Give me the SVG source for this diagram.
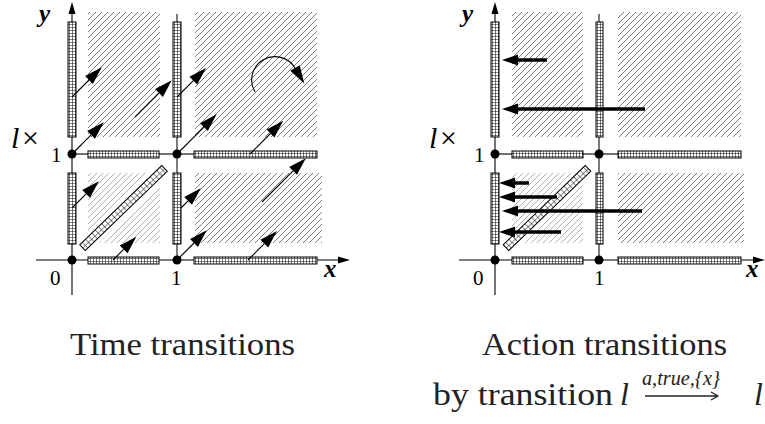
<svg xmlns="http://www.w3.org/2000/svg" width="765" height="424" viewBox="0 0 765 424">
<style>
.ax{stroke:#000;stroke-width:1.1;fill:none}
.gl{stroke:#444;stroke-width:1.4;fill:none}
.hatch{fill:url(#hatch)}
.strip{fill:url(#grid);stroke:#000;stroke-width:1}
.dstrip{fill:url(#grid4);stroke:#000;stroke-width:1}
.dot{fill:#000}
.tarr{stroke:#000;stroke-width:1.1;fill:none;marker-end:url(#ah)}
.aarr{stroke:#000;stroke-width:3.5;fill:none;marker-end:url(#ahk)}
.lbl{font-family:"Liberation Serif","Times New Roman","DejaVu Serif",serif;fill:#000}
.bi{font-family:"Liberation Serif","Times New Roman","DejaVu Serif",serif;font-weight:bold;font-style:italic;font-size:25px;fill:#000}
.cap{font-family:"Liberation Serif","Times New Roman","DejaVu Serif",serif;font-size:32px;fill:#222}
.it{font-style:italic}
.sup{font-family:"Liberation Serif","Times New Roman","DejaVu Serif",serif;font-size:20px;font-style:italic;fill:#222}
</style>
<defs>
<pattern id="hatch" patternUnits="userSpaceOnUse" width="6" height="6">
<path d="M-1,7 L7,-1 M-1,1 L1,-1 M5,7 L7,5" stroke="#666" stroke-width="0.85"/>
</pattern>
<pattern id="grid" patternUnits="userSpaceOnUse" width="3" height="3">
<rect width="3" height="3" fill="#fff"/>
<path d="M0,0 H3 M0,0 V3" stroke="#111" stroke-width="1.1"/>
</pattern>
<pattern id="grid4" patternUnits="userSpaceOnUse" width="4.5" height="4.5">
<rect width="4.5" height="4.5" fill="#fff"/>
<path d="M0,0 H4.5 M0,0 V4.5" stroke="#111" stroke-width="1"/>
</pattern>
<marker id="ah" markerUnits="userSpaceOnUse" markerWidth="19" markerHeight="12" refX="0" refY="6" orient="auto" overflow="visible">
<path d="M0,0.5 L18,6 L0,11.5 z" fill="#000"/>
</marker>
<marker id="ahk" markerUnits="userSpaceOnUse" markerWidth="17" markerHeight="12" refX="0" refY="6" orient="auto" overflow="visible">
<path d="M0,0.5 L16,6 L0,11.5 z" fill="#000"/>
</marker>
<marker id="axh" markerUnits="userSpaceOnUse" markerWidth="12" markerHeight="8" refX="0" refY="3.5" orient="auto" overflow="visible">
<path d="M0,0 L12,3.5 L0,7 z" fill="#000"/>
</marker>
<clipPath id="clipL"><polygon points="88,173 149,173 88,233"/><polygon points="160,183 160,243 99,243"/></clipPath>
<clipPath id="clipR"><polygon points="512,173 572,173 512,233"/><polygon points="583,183 583,243 523,243"/></clipPath>
</defs>

<!-- LEFT PANEL -->
<g id="left-panel">
  <g id="left-regions">
    <rect class="hatch" x="88" y="12" width="72" height="125"/>
    <rect class="hatch" x="195" y="12" width="122" height="125"/>
    <rect class="hatch" x="195" y="173" width="127" height="70"/>
    <rect class="hatch" x="88" y="173" width="72" height="70" clip-path="url(#clipL)" opacity="0.6"/>
  </g>
  <g id="left-axes">
    <path class="ax" d="M72,295 V14" marker-end="url(#axh)"/>
    <path class="ax" d="M36,260 H338" marker-end="url(#axh)"/>
    <path class="gl" d="M177,14 V260"/>
    <path class="gl" d="M72,154 H317"/>
  </g>
  <g id="left-strips">
    <rect class="strip" x="68" y="22" width="8" height="115"/>
    <rect class="strip" x="68" y="173" width="8" height="71"/>
    <rect class="strip" x="173" y="22" width="8" height="115"/>
    <rect class="strip" x="173" y="173" width="8" height="71"/>
    <rect class="strip" x="88" y="151" width="71" height="7"/>
    <rect class="strip" x="194" y="151" width="123" height="7"/>
    <rect class="strip" x="88" y="257" width="71" height="7"/>
    <rect class="strip" x="194" y="257" width="123" height="7"/>
    <rect class="dstrip" x="-57" y="-4" width="114" height="8" transform="translate(123.5,208) rotate(-44)"/>
  </g>
  <g id="left-dots">
    <circle class="dot" cx="72" cy="154" r="4.5"/>
    <circle class="dot" cx="72" cy="260" r="4.5"/>
    <circle class="dot" cx="177" cy="154" r="4.5"/>
    <circle class="dot" cx="177" cy="260" r="4.5"/>
  </g>
  <g id="left-labels">
    <text class="bi" x="39" y="22">y</text>
    <text class="bi" x="324" y="277">x</text>
    <text class="lbl" y="148" font-size="30"><tspan x="11" font-style="italic">l</tspan><tspan x="22">×</tspan></text>
    <text class="lbl" x="51" y="162" font-size="21">1</text>
    <text class="lbl" x="50" y="285" font-size="21">0</text>
    <text class="lbl" x="171" y="285" font-size="21">1</text>
  </g>
</g>

<!-- RIGHT PANEL -->
<g id="right-panel">
  <g id="right-regions">
    <rect class="hatch" x="512" y="12" width="71" height="125"/>
    <rect class="hatch" x="618" y="12" width="123" height="125"/>
    <rect class="hatch" x="618" y="173" width="126" height="70"/>
    <rect class="hatch" x="512" y="173" width="71" height="70" clip-path="url(#clipR)" opacity="0.6"/>
  </g>
  <g id="right-axes">
    <path class="ax" d="M495,295 V14" marker-end="url(#axh)"/>
    <path class="ax" d="M459,260 H753" marker-end="url(#axh)"/>
    <path class="gl" d="M599,14 V260"/>
    <path class="gl" d="M495,154 H741"/>
  </g>
  <g id="right-strips">
    <rect class="strip" x="491" y="22" width="8" height="115"/>
    <rect class="strip" x="491" y="173" width="8" height="71"/>
    <rect class="strip" x="596" y="22" width="7" height="115"/>
    <rect class="strip" x="596" y="173" width="7" height="71"/>
    <rect class="strip" x="512" y="151" width="71" height="7"/>
    <rect class="strip" x="618" y="151" width="123" height="7"/>
    <rect class="strip" x="512" y="257" width="71" height="7"/>
    <rect class="strip" x="618" y="257" width="123" height="7"/>
    <rect class="dstrip" x="-57" y="-4" width="114" height="8" transform="translate(547,208) rotate(-44)"/>
  </g>
  <g id="right-dots">
    <circle class="dot" cx="495" cy="154" r="4.5"/>
    <circle class="dot" cx="495" cy="260" r="4.5"/>
    <circle class="dot" cx="599" cy="154" r="4.5"/>
    <circle class="dot" cx="599" cy="260" r="4.5"/>
  </g>
  <g id="right-labels">
    <text class="bi" x="462" y="22">y</text>
    <text class="bi" x="746" y="277">x</text>
    <text class="lbl" y="148" font-size="30"><tspan x="429" font-style="italic">l</tspan><tspan x="440">×</tspan></text>
    <text class="lbl" x="474" y="162" font-size="21">1</text>
    <text class="lbl" x="473" y="285" font-size="21">0</text>
    <text class="lbl" x="594" y="285" font-size="21">1</text>
  </g>
</g>

<!-- CONNECTORS -->
<g id="connectors">
  <path class="tarr" d="M72,97 L89,80"/>
  <path class="tarr" d="M72,154 L91.1,134.9"/>
  <path class="tarr" d="M135,117 L159,93"/>
  <path class="tarr" d="M177,97 L193.3,80.7"/>
  <path class="tarr" d="M177,154 L203.9,127.1"/>
  <path class="tarr" d="M250,154 L270.5,133.5"/>
  <path class="tarr" d="M255,92 A23,23 0 1 1 295,68"/>
  <path class="tarr" d="M262,202 L293.1,170.9"/>
  <path class="tarr" d="M72,208 L86.1,193.9"/>
  <path class="tarr" d="M113,260 L123.6,249.4"/>
  <path class="tarr" d="M181,208 L188.1,200.9"/>
  <path class="tarr" d="M177,260 L194,243"/>
  <path class="tarr" d="M248,260 L264.3,243.7"/>

  <path class="aarr" d="M547,60 H518"/>
  <path class="aarr" d="M645,109 H518"/>
  <path class="aarr" d="M529,183 H515"/>
  <path class="aarr" d="M557,197 H515"/>
  <path class="aarr" d="M642,211 H518"/>
  <path class="aarr" d="M561,232 H515"/>
</g>

<!-- CAPTIONS -->
<g id="captions">
  <text class="cap" x="70" y="355" textLength="225" lengthAdjust="spacingAndGlyphs">Time transitions</text>
  <text class="cap" x="482" y="355" textLength="245" lengthAdjust="spacingAndGlyphs">Action transitions</text>
  <text class="cap" x="433" y="405" textLength="180" lengthAdjust="spacingAndGlyphs">by transition</text>
  <text class="cap it" x="620" y="405">l</text>
  <text class="sup" x="642" y="385" textLength="78" lengthAdjust="spacingAndGlyphs">a,true,{x}</text>
  <path d="M645,396 H718 M711,392 L718,396 L711,400" stroke="#222" stroke-width="1.3" fill="none"/>
  <text class="cap it" x="754" y="405">l</text>
</g>
</svg>
